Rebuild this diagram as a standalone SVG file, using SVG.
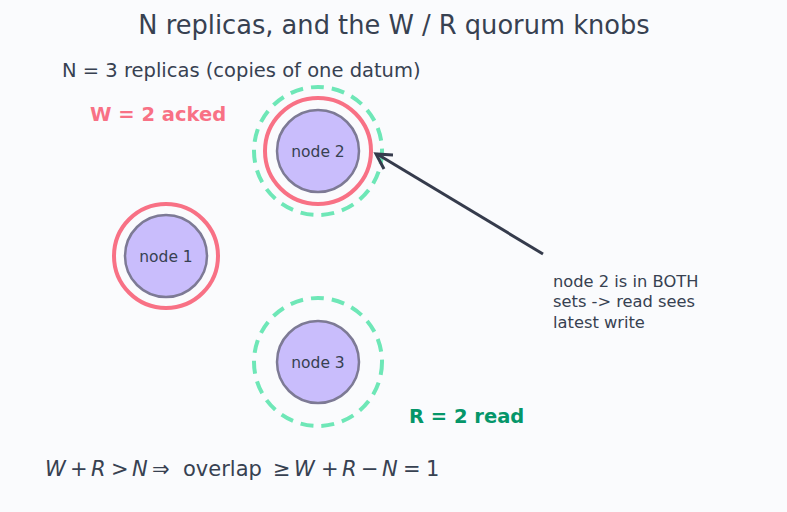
<svg xmlns="http://www.w3.org/2000/svg" width="787" height="512" viewBox="0 0 787 512">
<defs>
<style>
text{font-family:"DejaVu Sans","Liberation Sans",sans-serif;fill:#374151}
.node{fill:#c9bdfc;stroke:#7d7a95;stroke-width:2.5}
.w{fill:none;stroke:#f87185;stroke-width:4}
.r{fill:none;stroke:#6ee7b7;stroke-width:4;stroke-dasharray:13,8}
.lbl{font-size:15.5px;text-anchor:middle}
.it{font-style:italic}
</style>
</defs>
<rect width="787" height="512" fill="#fafbfd"/>
<text x="394" y="34" font-size="25.7" text-anchor="middle">N replicas, and the W / R quorum knobs</text>
<text x="62" y="77" font-size="19.5">N = 3 replicas (copies of one datum)</text>
<text x="90" y="121" font-size="19.5" font-weight="bold" style="fill:#f87185">W = 2 acked</text>
<text x="409" y="423" font-size="19.5" font-weight="bold" style="fill:#059669">R = 2 read</text>
<g id="node2">
<circle class="r" cx="318" cy="151" r="64"/>
<circle class="w" cx="318" cy="151" r="53"/>
<circle class="node" cx="318" cy="151" r="41"/>
<text class="lbl" x="318" y="157">node 2</text>
</g>
<g id="node1">
<circle class="w" cx="166" cy="256" r="52"/>
<circle class="node" cx="166" cy="256" r="41"/>
<text class="lbl" x="166" y="262">node 1</text>
</g>
<g id="node3">
<circle class="r" cx="318" cy="362" r="64"/>
<circle class="node" cx="318" cy="362" r="41"/>
<text class="lbl" x="318" y="368">node 3</text>
</g>
<g id="connectors">
<path d="M543,254 L377,154" fill="none" stroke="#353b4c" stroke-width="3"/>
<path d="M393,155 L376,154 L384,169" fill="none" stroke="#353b4c" stroke-width="3" stroke-linejoin="miter"/>
</g>
<g id="note">
<text x="553" y="287" font-size="16.3">node 2 is in BOTH</text>
<text x="553" y="307" font-size="16.3">sets -&gt; read sees</text>
<text x="553" y="328" font-size="16.3">latest write</text>
</g>
<g id="formula" font-size="21">
<text x="45" y="476" class="it">W</text>
<text x="70" y="476">+</text>
<text x="91" y="476" class="it">R</text>
<text x="111" y="476">&gt;</text>
<text x="132" y="476" class="it">N</text>
<text x="152" y="476">⇒</text>
<text x="183" y="476">overlap</text>
<text x="273" y="476">≥</text>
<text x="294" y="476" class="it">W</text>
<text x="321" y="476">+</text>
<text x="342" y="476" class="it">R</text>
<text x="361" y="476">−</text>
<text x="382" y="476" class="it">N</text>
<text x="403" y="476">=</text>
<text x="426" y="476">1</text>
</g>
</svg>
